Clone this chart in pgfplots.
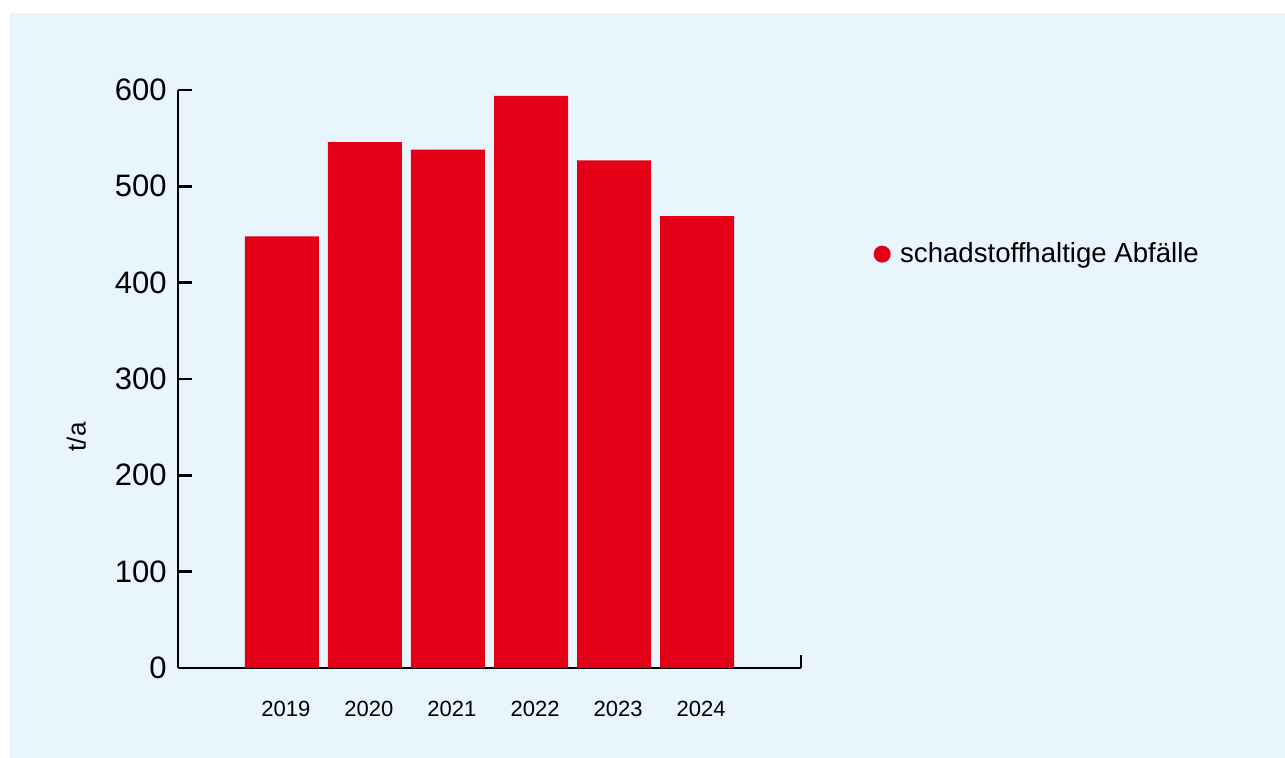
\documentclass[border=0pt]{standalone}
\usepackage{pgfplots}
\pgfplotsset{compat=1.18}
\usepackage{fontspec}
\setmainfont{Liberation Sans}
\definecolor{barred}{RGB}{227,0,22}
\definecolor{bgblue}{RGB}{232,245,253}
\begin{document}
\begin{tikzpicture}
\useasboundingbox (0,0) rectangle (642.5pt,379pt);
\fill[bgblue] (5pt,0) rectangle (642.5pt,372.5pt);
\begin{axis}[
  at={(89pt,45pt)}, anchor=south west,
  scale only axis, width=311.5pt, height=289pt,
  axis lines=left,
  axis line style={line width=1.3pt, -},
  x axis line style={line width=1.3pt},
  y axis line style={line width=1.3pt},
  xmin=-1.25, xmax=6.25, ymin=0, ymax=600,
  ytick={0,100,...,600},
  xtick={0,1,2,3,4,5},
  xticklabels={2019,2020,2021,2022,2023,2024},
  xtick style={draw=none},
  ytick style={line width=1.3pt, black},
  tick align=inside,
  major tick length=7pt,
  /pgf/number format/assume math mode=true,
  yticklabel style={font=\fontsize{15.5}{17}\selectfont, inner xsep=5.5pt},
  xticklabel style={font=\fontsize{11}{13}\selectfont, yshift=-13pt, xshift=2pt},
  ylabel={t/a},
  ylabel style={font=\fontsize{13}{15}\selectfont, at={(axis description cs:-0.163,0.4)}, anchor=center},
  legend style={at={(1.116,0.716)}, anchor=west, draw=none, fill=none,
    font=\fontsize{13.8}{16}\selectfont, inner sep=0pt},
  legend image code/.code={\fill[barred] (0pt,0pt) circle (4.25pt); \path (7pt,0pt);},
  clip=false,
]
\addplot[ybar, bar width=37pt, fill=barred, draw=none, bar shift=0pt]
  coordinates {(0,448) (1,546) (2,538) (3,594) (4,527) (5,469)};
\addlegendentry{schadstoffhaltige Abfälle}
\draw[line width=1.3pt] (axis cs:6.25,0) -- (axis cs:6.25,13.5);
\end{axis}
\end{tikzpicture}
\end{document}
